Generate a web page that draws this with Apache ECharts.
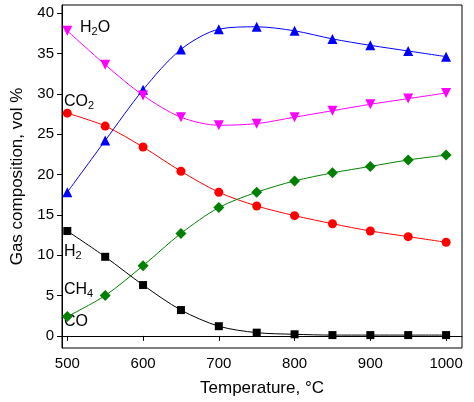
<!DOCTYPE html>
<html><head><meta charset="utf-8">
<script src="https://cdn.jsdelivr.net/npm/echarts@6/dist/echarts.min.js"></script>
<style>html,body{margin:0;padding:0;background:#fff}#main{width:474px;height:402px}</style>
</head><body><div id="main"></div>
<script>
var temps = [500, 550, 600, 650, 700, 750, 800, 850, 900, 950, 1000];
var h2 = [17.8, 24.2, 30.5, 35.5, 38.0, 38.3, 37.8, 36.8, 36.0, 35.3, 34.6];
var h2o = [37.8, 33.6, 29.8, 27.1, 26.1, 26.3, 27.1, 27.9, 28.7, 29.4, 30.1];
var co2 = [27.6, 26.0, 23.4, 20.4, 17.8, 16.1, 14.9, 13.9, 13.0, 12.3, 11.6];
var co = [2.4, 5.0, 8.7, 12.7, 15.9, 17.8, 19.2, 20.2, 21.0, 21.8, 22.4];
var ch4 = [13.0, 9.8, 6.3, 3.2, 1.2, 0.4, 0.2, 0.1, 0.1, 0.1, 0.1];
var xTicks = [500, 600, 700, 800, 900, 1000];
var yTicks = [0, 5, 10, 15, 20, 25, 30, 35, 40];

function pairs(vals) {
  return vals.map(function (v, i) { return [temps[i], v]; });
}
function mk(name, vals, color, symbol, rot, size) {
  return {
    name: name, type: 'line', data: pairs(vals), symbol: symbol, symbolRotate: rot || 0,
    symbolSize: size || 9, smooth: 0.3, lineStyle: { color: color, width: 1 }, itemStyle: { color: color },
    emphasis: { disabled: true }
  };
}
var font = 'Arial, "Liberation Sans", sans-serif';
var rich = { s: { fontSize: 11, verticalAlign: 'bottom', padding: [8, 0, 0, 0], fontFamily: font } };
function lab(x, y, txt) {
  return { type: 'text', left: x, top: y, style: { text: txt, fontSize: 16, fill: '#000', fontFamily: font, rich: rich } };
}

var chart = echarts.init(document.getElementById('main'));
chart.setOption({
  animation: false,
  grid: { left: 62, right: 12, top: 5, bottom: 54, show: true, borderColor: '#000', borderWidth: 1 },
  xAxis: {
    type: 'value', min: 493, max: 1021,
    name: 'Temperature, °C', nameLocation: 'middle', nameGap: 32,
    nameTextStyle: { fontSize: 17, color: '#000', fontFamily: font },
    axisLine: { lineStyle: { color: '#000' } },
    axisTick: { customValues: xTicks, lineStyle: { color: '#000' } },
    axisLabel: { customValues: xTicks, formatter: function (v) { return String(v); }, fontSize: 15, color: '#000', fontFamily: font },
    splitLine: { show: false }
  },
  yAxis: {
    type: 'value', min: -1.5, max: 41,
    name: 'Gas composition, vol %', nameLocation: 'middle', nameGap: 36,
    nameTextStyle: { fontSize: 17, color: '#000', fontFamily: font },
    axisLine: { show: true, lineStyle: { color: '#000' } },
    axisTick: { show: true, customValues: yTicks, lineStyle: { color: '#000' } },
    axisLabel: { customValues: yTicks, fontSize: 15, color: '#000', fontFamily: font },
    splitLine: { show: false }
  },
  graphic: [
    lab(80, 20, 'H{s|2}O'),
    lab(64, 94, 'CO{s|2}'),
    lab(64, 244, 'H{s|2}'),
    lab(64, 282, 'CH{s|4}'),
    lab(64, 314, 'CO')
  ],
  series: [
    mk('H2', h2, '#0000ff', 'triangle', 0, 10),
    mk('H2O', h2o, '#ff00ff', 'triangle', 180, 10),
    mk('CO2', co2, '#ff0000', 'circle', 0, 9),
    mk('CO', co, '#008000', 'diamond', 0, 11),
    mk('CH4', ch4, '#000000', 'rect', 0, 8)
  ]
});
</script></body></html>
